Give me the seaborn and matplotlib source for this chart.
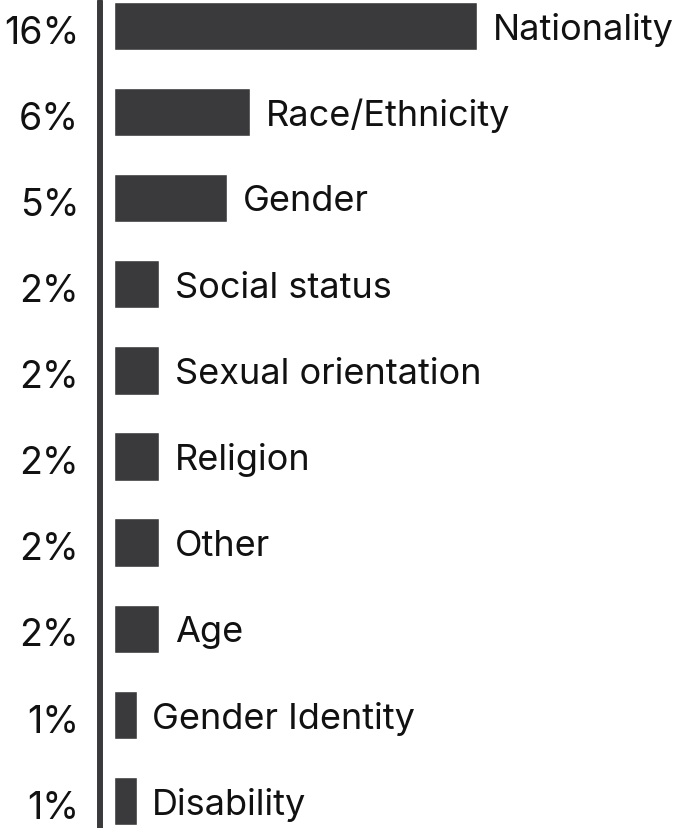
import matplotlib
matplotlib.use("Agg")
import matplotlib.pyplot as plt
import matplotlib.transforms as mtransforms
import seaborn as sns
import pandas as pd

categories = ["Nationality", "Race/Ethnicity", "Gender", "Social status",
              "Sexual orientation", "Religion", "Other", "Age",
              "Gender Identity", "Disability"]
values = [16, 6, 5, 2, 2, 2, 2, 2, 1, 1]
pct_labels = [f"{v}%" for v in values]

df = pd.DataFrame({"category": categories, "value": values})

sns.set_theme(style="white")
plt.rcParams["font.family"] = ["Inter", "DejaVu Sans"]

BAR = "#3a3a3c"
W, H, DPI = 679, 829, 100
fig = plt.figure(figsize=(W / DPI, H / DPI), dpi=DPI)
ax = fig.add_axes([114 / W, 0, (W - 114) / W, 1])

sns.barplot(data=df, x="value", y="category", order=categories,
            color=BAR, saturation=1, width=0.56, ax=ax)

px_per_unit = 22.7
ax.set_xlim(0, (W - 114) / px_per_unit)
row = 86.1
ax.set_ylim((H - 27) / row, -27 / row)

for sp in ax.spines.values():
    sp.set_visible(False)
ax.set_xticks([])
ax.set_xlabel("")
ax.set_ylabel("")
ax.set_yticks(range(len(categories)))
ax.set_yticklabels(pct_labels, fontsize=27, color="#111111")
ax.tick_params(axis="y", length=0, pad=25)
shift = mtransforms.ScaledTranslation(0, -2 / 72, fig.dpi_scale_trans)
for lbl in ax.get_yticklabels():
    lbl.set_transform(lbl.get_transform() + shift)

# vertical baseline rule to the left of the bars
ax.axvline(-14 / px_per_unit, ymin=0, ymax=1 - 2 / H, color=BAR,
           lw=4.3, clip_on=False)

for i, (cat, v) in enumerate(zip(categories, values)):
    ax.annotate(cat, (v, i), xytext=(11, -2), textcoords="offset points",
                va="center", ha="left", fontsize=26, color="#111111")

fig.savefig("out.png", dpi=DPI)
